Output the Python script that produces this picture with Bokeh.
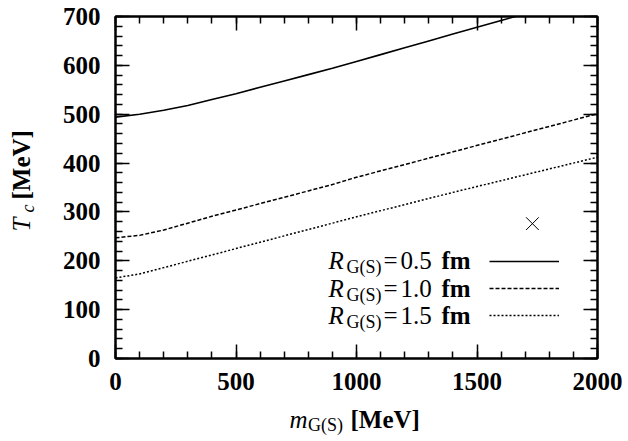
import math
from bokeh.plotting import figure
from bokeh.layouts import row, column
from bokeh.models import (Range1d, LinearAxis, SingleIntervalTicker, Label,
                          Legend, LegendItem)
from bokeh.embed import file_html
from bokeh.resources import INLINE

# ---- data ----
m_r05 = [0, 100, 200, 300, 400, 500, 600, 700, 800, 900, 1000, 1100, 1200,
         1300, 1400, 1500, 1600, 1660]
T_r05 = [494, 500, 508, 518, 530, 542, 555, 568, 581, 594, 608, 622, 636,
         650, 664, 678, 692, 700]

m_r10 = [0, 100, 200, 300, 400, 500, 600, 700, 800, 900, 1000, 1200, 1400,
         1600, 1800, 2000]
T_r10 = [247, 252, 263, 277, 291, 304, 317, 330, 343, 356, 371, 397, 423,
         449, 475, 501]

m_r15 = [0, 100, 200, 300, 400, 500, 600, 700, 800, 900, 1000, 1200, 1400,
         1600, 1800, 2000]
T_r15 = [165, 173, 186, 199, 212, 225, 238, 251, 264, 277, 290, 315, 340,
         364, 388, 412]

mark_m = [1730]
mark_T = [276]

row_values = ["0.5", "1.0", "1.5"]

SERIF = "Liberation Serif"

TOTAL_W, TOTAL_H = 628, 441
YLAB_W = 50        # strip on the left holding the rotated y title
MAIN_H = 405       # height of the main plot; below it a strip for the x title
FRAME_BOTTOM = 358  # page y of the plot frame's bottom edge
K_BASE = 0.32       # shift that puts Bokeh's "alphabetic" anchor on the baseline

p = figure(width=TOTAL_W - YLAB_W, height=MAIN_H, output_backend="svg",
           toolbar_location=None,
           x_range=Range1d(0, 2000), y_range=Range1d(0, 700),
           min_border_left=115 - YLAB_W, min_border_right=31, min_border_top=16,
           min_border_bottom=MAIN_H - FRAME_BOTTOM)
p.background_fill_color = "white"
p.border_fill_color = "white"
p.outline_line_color = "black"
p.outline_line_width = 2
p.xgrid.visible = False
p.ygrid.visible = False


def style_axis(ax, interval, show_labels, standoff=12):
    ax.ticker = SingleIntervalTicker(interval=interval, num_minor_ticks=5)
    ax.axis_line_width = 2
    ax.axis_line_color = "black"
    ax.major_tick_in = 14
    ax.major_tick_out = 0
    ax.minor_tick_in = 7
    ax.minor_tick_out = 0
    ax.major_tick_line_width = 1.5
    ax.minor_tick_line_width = 1.5
    ax.major_tick_line_color = "black"
    ax.minor_tick_line_color = "black"
    if show_labels:
        ax.major_label_text_font = SERIF
        ax.major_label_text_font_style = "bold"
        ax.major_label_text_font_size = "25px"
        ax.major_label_text_color = "black"
        ax.major_label_standoff = standoff
    else:
        ax.major_label_text_font_size = "1px"
        ax.major_label_text_color = None
        ax.major_label_standoff = 0


style_axis(p.xaxis[0], 500, True, 14)
style_axis(p.yaxis[0], 100, True, 15)

top_ax = LinearAxis()
style_axis(top_ax, 500, False)
p.add_layout(top_ax, "above")
right_ax = LinearAxis()
style_axis(right_ax, 100, False)
p.add_layout(right_ax, "right")

r1 = p.line(m_r05, T_r05, line_color="black", line_width=1.6)
r2 = p.line(m_r10, T_r10, line_color="black", line_width=1.5, line_dash="4 2")
r3 = p.line(m_r15, T_r15, line_color="black", line_width=1.5, line_dash="2 2")
p.scatter(mark_m, mark_T, marker="x", size=18, line_color="black", line_width=1)

legend = Legend(items=[LegendItem(label=" ", renderers=[r]) for r in (r1, r2, r3)],
                location=(374, 32), glyph_width=70, glyph_height=22,
                label_height=22, label_width=0, label_standoff=0, spacing=5,
                padding=0, margin=0, border_line_color=None,
                background_fill_alpha=0, label_text_font_size="1px")
p.add_layout(legend)


def lab(text, x, y, size, style="normal", angle=0.0):
    # (x, y): baseline start in frame-relative screen pixels (y upward)
    if angle == 0.0:
        y = y + K_BASE * size
    else:
        x = x - K_BASE * size
    return Label(x=x, y=y, x_units="screen", y_units="screen", text=text,
                 text_font=SERIF, text_font_size=f"{size}px",
                 text_font_style=style, text_color="black",
                 text_baseline="alphabetic", text_align="left", angle=angle)


# legend texts (inside the frame)
for val, base in zip(row_values, [90, 62, 35]):
    p.add_layout(lab("R", 213, base, 25, "italic"))
    p.add_layout(lab("G(S)", 231, base - 4.5, 18))
    p.add_layout(lab("=", 268, base, 25))
    p.add_layout(lab(val, 285, base, 25))
    p.add_layout(lab("fm", 326, base, 25, "bold"))


def strip(w, h):
    f = figure(width=w, height=h, output_backend="svg", toolbar_location=None,
               x_axis_type=None, y_axis_type=None, min_border=0,
               x_range=Range1d(0, 1), y_range=Range1d(0, 1))
    f.outline_line_color = None
    f.background_fill_color = "white"
    f.border_fill_color = "white"
    f.xgrid.visible = False
    f.ygrid.visible = False
    return f


# y title strip: its frame is aligned with the main frame (bottom at FRAME_BOTTOM)
ys = strip(YLAB_W, MAIN_H)
a = math.pi / 2
ys.add_layout(lab("T", 29, FRAME_BOTTOM - 231, 25, "italic", a))
ys.add_layout(lab("c", 33, FRAME_BOTTOM - 212, 18, "italic", a))
ys.add_layout(lab("[MeV]", 29, FRAME_BOTTOM - 199, 25, "bold", a))

# x title strip
xs = strip(TOTAL_W, TOTAL_H - MAIN_H)
xs.add_layout(lab("m", 289, TOTAL_H - 427, 25, "italic"))
xs.add_layout(lab("G(S)", 307.5, TOTAL_H - 430.5, 18))
xs.add_layout(lab("[MeV]", 350, TOTAL_H - 427, 25, "bold"))

layout = column(row(ys, p, spacing=0), xs, spacing=0)

open("out.html", "w").write(file_html(layout, INLINE))
